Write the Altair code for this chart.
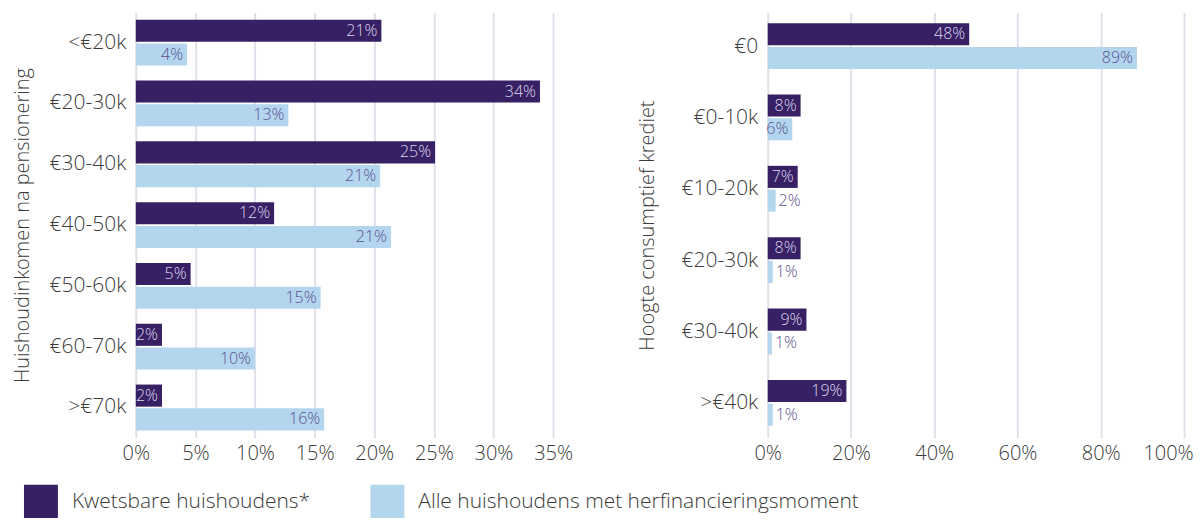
import altair as alt
import pandas as pd

series = ["Kwetsbare huishoudens*", "Alle huishoudens met herfinancieringsmoment"]
colors = ["#372063", "#b3d6ee"]

inc_cats = ["<€20k", "€20-30k", "€30-40k", "€40-50k", "€50-60k", "€60-70k", ">€70k"]
inc_kwets = [20.6, 33.9, 25.1, 11.6, 4.6, 2.2, 2.2]
inc_alle = [4.3, 12.8, 20.5, 21.4, 15.5, 10.0, 15.8]
inc_kwets_lbl = ["21%", "34%", "25%", "12%", "5%", "2%", "2%"]
inc_alle_lbl = ["4%", "13%", "21%", "21%", "15%", "10%", "16%"]

kred_cats = ["€0", "€0-10k", "€10-20k", "€20-30k", "€30-40k", ">€40k"]
kred_kwets = [48.4, 7.9, 7.2, 7.9, 9.3, 18.9]
kred_alle = [88.7, 5.9, 1.9, 1.2, 1.0, 1.2]
kred_kwets_lbl = ["48%", "8%", "7%", "8%", "9%", "19%"]
kred_alle_lbl = ["89%", "6%", "2%", "1%", "1%", "1%"]

FONT = "Open Sans"
TXT = "#3a3a3a"


def make_df(cats, a, b, la, lb, px_per_unit):
    rows = []
    for i, c in enumerate(cats):
        for s, v, l in ((series[0], a[i], la[i]), (series[1], b[i], lb[i])):
            rows.append(dict(cat=c, series=s, value=v, label=l, inside=bool(v * px_per_unit >= 20)))
    return pd.DataFrame(rows)


def panel(df, cats, xmax, step, title, width, pi, po, show_legend, tpad, last_off):
    y = alt.Y("cat:N", sort=cats,
              scale=alt.Scale(paddingInner=pi, paddingOuter=po),
              axis=alt.Axis(title=title, domain=False, ticks=False, grid=False,
                            labelPadding=10, labelFontSize=21, titleFontSize=20,
                            titlePadding=tpad, labelColor=TXT, titleColor=TXT,
                            labelFont=FONT, titleFont=FONT, titleFontWeight=300,
                            labelFontWeight=300))
    yoff = alt.YOffset("series:N", sort=series, scale=alt.Scale(domain=series, paddingInner=0.07))
    x = alt.X("value:Q", scale=alt.Scale(domain=[0, xmax], nice=False),
              axis=alt.Axis(values=list(range(0, xmax + 1, step)), labelExpr="datum.value + '%'",
                            title=None, domain=False, ticks=False, grid=True, labelFlush=False,
                            gridColor="#e1e0ea", gridWidth=2, labelFontSize=20,
                            labelPadding=6, labelColor=TXT, labelFont=FONT,
                            labelFontWeight=300,
                            labelOffset={"condition": {"test": f"datum.value === {xmax}",
                                                       "value": last_off}, "value": 0}))
    legend = alt.Legend(title=None) if show_legend else None
    color = alt.Color("series:N", sort=series, scale=alt.Scale(domain=series, range=colors),
                      legend=legend)
    base = alt.Chart(df)
    bars = base.mark_bar().encode(y=y, yOffset=yoff, x=x, color=color)
    tcol = alt.condition(alt.datum.series == series[0], alt.value("#ddd6ee"), alt.value("#5b5190"))
    inside = base.transform_filter("datum.inside").mark_text(
        align="right", dx=-4, baseline="middle", fontSize=16, font=FONT, fontWeight=300
    ).encode(y=alt.Y("cat:N", sort=cats), yOffset=alt.YOffset("series:N", sort=series),
             x="value:Q", text="label:N", color=tcol)
    outside = base.transform_filter("!datum.inside").mark_text(
        align="left", dx=3, baseline="middle", fontSize=16, font=FONT, fontWeight=300,
        color="#5b5190"
    ).encode(y=alt.Y("cat:N", sort=cats), yOffset=alt.YOffset("series:N", sort=series),
             x="value:Q", text="label:N")
    return alt.layer(bars, inside, outside).properties(width=width, height=426)


left_df = make_df(inc_cats, inc_kwets, inc_alle, inc_kwets_lbl, inc_alle_lbl, 418 / 35)
right_df = make_df(kred_cats, kred_kwets, kred_alle, kred_kwets_lbl, kred_alle_lbl, 417 / 100)

left = panel(left_df, inc_cats, 35, 5, "Huishoudinkomen na pensionering", 418, 0.246, 0.12, True, 17, 0)
right = panel(right_df, kred_cats, 100, 20, "Hoogte consumptief krediet", 417, 0.34, 0.15, False, 24, -16)

chart = alt.hconcat(left, right, spacing=64).resolve_scale(y="independent").properties(
    padding={"left": 4, "top": 4, "right": 0, "bottom": -1}
).configure_view(stroke=None).configure_legend(
    orient="none", legendX=-112, legendY=473, direction="horizontal",
    symbolType="square", symbolSize=1156, symbolStrokeWidth=0,
    labelFontSize=21, labelFont=FONT, labelFontWeight=300, labelColor=TXT,
    labelOffset=14, columnPadding=60, labelLimit=600
)

chart.save("out.html", embed_options={"renderer": "svg", "actions": False})
